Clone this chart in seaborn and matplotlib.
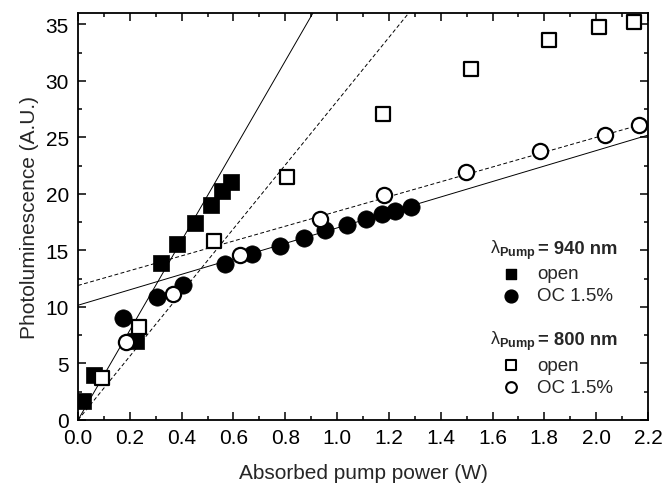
import numpy as np
import pandas as pd
import matplotlib
matplotlib.use("Agg")
import matplotlib.pyplot as plt
import seaborn as sns
from matplotlib.ticker import MultipleLocator

# ---- data ----
open940_x = [0.02, 0.062, 0.225, 0.322, 0.384, 0.451, 0.515, 0.557, 0.59]
open940_y = [1.7, 4.0, 7.0, 13.9, 15.6, 17.45, 19.06, 20.24, 21.07]

oc940_x = [0.174, 0.303, 0.405, 0.566, 0.673, 0.779, 0.873, 0.955, 1.04, 1.113, 1.175, 1.223, 1.287]
oc940_y = [9.0, 10.9, 11.94, 13.83, 14.65, 15.42, 16.12, 16.77, 17.24, 17.74, 18.2, 18.47, 18.86]

open800_x = [0.093, 0.234, 0.525, 0.807, 1.178, 1.515, 1.817, 2.012, 2.147]
open800_y = [3.68, 8.24, 15.8, 21.5, 27.1, 31.04, 33.6, 34.75, 35.2]

oc800_x = [0.187, 0.367, 0.624, 0.933, 1.18, 1.497, 1.785, 2.034, 2.166]
oc800_y = [6.86, 11.15, 14.62, 17.74, 19.92, 21.95, 23.77, 25.24, 26.06]

# linear fits (slope, intercept)
fit_open940 = (39.7, 0.0)
fit_open800 = (28.2, 0.0)
fit_oc940 = (6.84, 10.15)
fit_oc800 = (6.55, 11.9)

x_ticks = [0.0, 0.2, 0.4, 0.6, 0.8, 1.0, 1.2, 1.4, 1.6, 1.8, 2.0, 2.2]
y_ticks = [0, 5, 10, 15, 20, 25, 30, 35]

legend_headers = ["= 940 nm", "= 800 nm"]
legend_labels = ["open", "OC 1.5%"]

# ---- style ----
sns.set_theme(style="ticks")
plt.rcParams["font.family"] = ["Liberation Sans", "DejaVu Sans"]
plt.rcParams["mathtext.fontset"] = "custom"
plt.rcParams["mathtext.rm"] = "Liberation Sans"
plt.rcParams["mathtext.it"] = "Liberation Sans"
plt.rcParams["mathtext.bf"] = "Liberation Sans:bold"

fig = plt.figure(figsize=(6.67, 4.89), dpi=100)
ax = fig.add_axes([78 / 667, 1 - 421 / 489, (648 - 78) / 667, (421 - 14) / 489])

# fit lines
xfit = np.linspace(0, 2.2, 400)
for (m, b), ls in [(fit_open940, "-"), (fit_open800, (0, (4, 2.5))),
                   (fit_oc940, "-"), (fit_oc800, (0, (4, 2.5)))]:
    sns.lineplot(x=xfit, y=m * xfit + b, ax=ax, color="black", lw=0.7,
                 linestyle=ls, zorder=2)

# scatter points
sns.scatterplot(x=open940_x, y=open940_y, ax=ax, marker="s", s=125,
                color="black", edgecolor="black", linewidth=0.5, zorder=4)
sns.scatterplot(x=oc940_x, y=oc940_y, ax=ax, marker="o", s=155,
                color="black", edgecolor="black", linewidth=0.5, zorder=4)
sns.scatterplot(x=open800_x, y=open800_y, ax=ax, marker="s", s=95,
                facecolor="white", edgecolor="black", linewidth=1.6, zorder=5)
sns.scatterplot(x=oc800_x, y=oc800_y, ax=ax, marker="o", s=120,
                facecolor="white", edgecolor="black", linewidth=1.6, zorder=5)

ax.set_xlim(0, 2.2)
ax.set_ylim(0, 36)
ax.set_xticks(x_ticks)
ax.set_xticklabels([f"{v:.1f}" for v in x_ticks])
ax.set_yticks(y_ticks)
ax.set_yticklabels([str(v) for v in y_ticks])
ax.xaxis.set_minor_locator(MultipleLocator(0.1))
ax.yaxis.set_minor_locator(MultipleLocator(2.5))
ax.tick_params(which="both", direction="in", top=True, right=True,
               colors="black", labelsize=15, width=1.1)
ax.tick_params(which="major", length=6)
ax.tick_params(axis="x", which="major", pad=6)
ax.tick_params(axis="y", which="major", pad=6.5)
ax.tick_params(which="minor", length=3)
for sp in ax.spines.values():
    sp.set_visible(True)
    sp.set_linewidth(1.3)
    sp.set_color("black")

ax.set_xlabel("Absorbed pump power (W)", fontsize=15, labelpad=11)
ax.set_ylabel("Photoluminescence (A.U.)", fontsize=15, labelpad=5)

# custom legend
mx, tx = 1.671, 1.775
hx = 1.589
legend_fs = 13.5
for hy, head in [(15.1, legend_headers[0]), (7.0, legend_headers[1])]:
    ax.text(hx, hy, r"$\lambda_{\mathbf{Pump}}$", fontsize=13,
            va="center", ha="left")
    ax.text(tx, hy + 0.1, head, fontsize=13.2, fontweight="bold",
            va="center", ha="left")

ax.scatter([mx], [12.95], marker="s", s=60, color="black", zorder=6)
ax.text(tx - 0.004, 12.95, legend_labels[0], fontsize=legend_fs, va="center")
ax.scatter([mx], [10.97], marker="o", s=85, color="black", zorder=6)
ax.text(tx - 0.004, 10.97, legend_labels[1], fontsize=legend_fs, va="center")

ax.scatter([mx], [4.85], marker="s", s=45, facecolor="white",
           edgecolor="black", linewidth=1.5, zorder=6)
ax.text(tx - 0.004, 4.85, legend_labels[0], fontsize=legend_fs, va="center")
ax.scatter([mx], [2.89], marker="o", s=60, facecolor="white",
           edgecolor="black", linewidth=1.5, zorder=6)
ax.text(tx - 0.004, 2.89, legend_labels[1], fontsize=legend_fs, va="center")

fig.savefig("out.png", dpi=100)
